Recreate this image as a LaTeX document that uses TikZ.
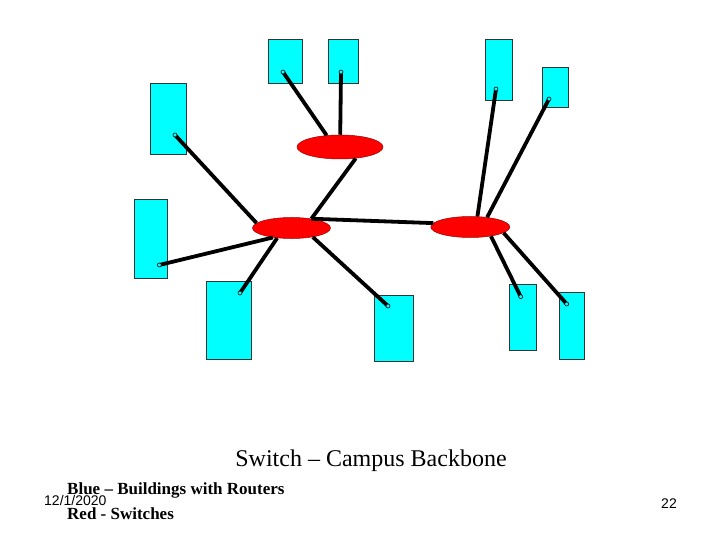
\documentclass[tikz,border=0pt]{standalone}
\usepackage{fontspec}
\setmainfont{Liberation Serif}
\newfontfamily\slidesans{Liberation Sans}
\usetikzlibrary{shapes.geometric}
\definecolor{bldgcyan}{RGB}{0,255,255}
\tikzset{
    bldg/.style={draw=black!80, fill=bldgcyan, line width=0.8pt, inner sep=0pt},
    switchnode/.style={ellipse, draw=red!60!black, fill=red, line width=0.5pt, inner sep=0pt},
    link/.style={line width=3.8pt, black},
    portring/.style={draw=black, fill=bldgcyan, line width=0.6pt},
}

\begin{document}
\begin{tikzpicture}[x=1pt, y=-1pt]
        \useasboundingbox (0,0) rectangle (720,540);
        \node[bldg, minimum width=34pt, minimum height=44pt] (b1) at (285,61) {};
        \node[bldg, minimum width=30pt, minimum height=44pt] (b2) at (343,61) {};
        \node[bldg, minimum width=36pt, minimum height=71pt] (b3) at (168,118.5) {};
        \node[bldg, minimum width=27pt, minimum height=61pt] (b4) at (498.5,69.5) {};
        \node[bldg, minimum width=26pt, minimum height=40pt] (b5) at (555,87) {};
        \node[bldg, minimum width=33pt, minimum height=79pt] (b6) at (150.5,238.5) {};
        \node[bldg, minimum width=45pt, minimum height=78pt] (b7) at (228.5,320) {};
        \node[bldg, minimum width=39pt, minimum height=66pt] (b8) at (393.5,328) {};
        \node[bldg, minimum width=27pt, minimum height=66pt] (b9) at (522.5,317) {};
        \node[bldg, minimum width=25pt, minimum height=67pt] (b10) at (571.5,325.5) {};
        \node[switchnode, minimum width=86pt, minimum height=24pt] (s1) at (340,147) {};
        \node[switchnode, minimum width=78pt, minimum height=21pt] (s2) at (291.5,228) {};
        \node[switchnode, minimum width=79pt, minimum height=21pt] (s3) at (470.3,227) {};
        \coordinate (p1) at (283,72);
        \coordinate (p2) at (341,72);
        \coordinate (p3) at (175,135);
        \coordinate (p4) at (496,89);
        \coordinate (p5) at (549,99);
        \coordinate (p6) at (159.3,265);
        \coordinate (p7) at (240,293);
        \coordinate (p8) at (388,306);
        \coordinate (p9) at (520.7,296.7);
        \coordinate (p10) at (566.7,304);
        \draw[link] (p1) -- (s1.139);
        \draw[link] (p2) -- (s1.89);
        \draw[link] (s1.324) -- (s2.25);
        \draw[link] (s2.25) -- (s3.174);
        \draw[link] (p3) -- (s2.172);
        \draw[link] (p6) -- (s2.207);
        \draw[link] (s2.215) -- (p7);
        \draw[link] (s2.337) -- (p8);
        \draw[link] (p4) -- (s3.56);
        \draw[link] (p5) -- (s3.30);
        \draw[link] (s3.336) -- (p9);
        \draw[link] (s3.350) -- (p10);
        \draw[portring] (p1) circle (2pt) (p2) circle (2pt) (p3) circle (2pt) (p4) circle (2pt) (p5) circle (2pt);
        \draw[portring] (p6) circle (2pt) (p7) circle (2pt) (p8) circle (2pt) (p9) circle (2pt) (p10) circle (2pt);
        \node[anchor=base, inner sep=0pt, font=\fontsize{24}{28}\selectfont] (title) at (371,466) {Switch – Campus Backbone};
        \node[anchor=base west, inner sep=0pt, font=\fontsize{17}{20}\selectfont\bfseries] (legendblue) at (67,494.5) {Blue – Buildings with Routers};
        \node[anchor=base west, inner sep=0pt, font=\fontsize{17}{20}\selectfont\bfseries] (legendred) at (67,519.5) {Red - Switches};
        \node[anchor=base west, inner sep=0pt, font=\slidesans\fontsize{14}{16}\selectfont] (date) at (44,505) {12/1/2020};
        \node[anchor=base east, inner sep=0pt, font=\slidesans\fontsize{14}{16}\selectfont] (pagenum) at (677,508) {22};
\end{tikzpicture}
\end{document}
